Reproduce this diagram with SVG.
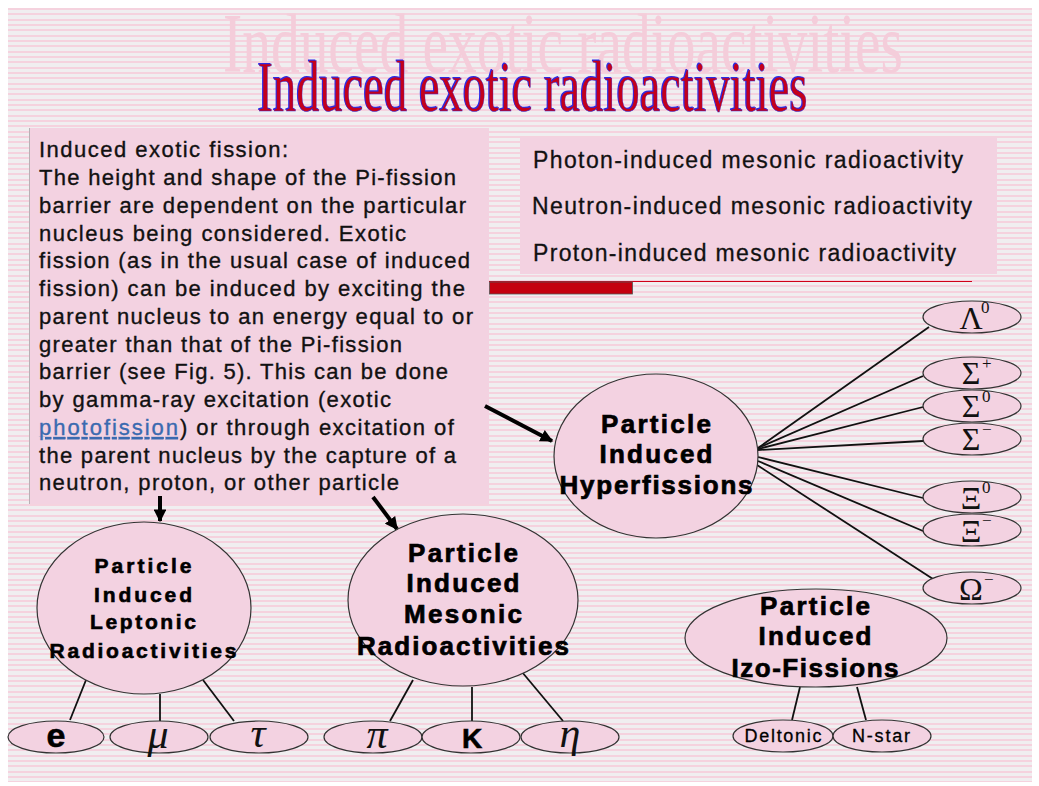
<svg xmlns="http://www.w3.org/2000/svg" width="1039" height="786" viewBox="0 0 1039 786">
<defs>
<pattern id="stripes" x="0" y="8" width="20" height="16" patternUnits="userSpaceOnUse">
<rect width="20" height="16" fill="#f0eef0"/>
<rect y="0" width="20" height="2" fill="#f5d2de"/>
<rect y="5" width="20" height="2" fill="#f5d2de"/>
<rect y="11" width="20" height="2" fill="#f5d2de"/>
</pattern>
<marker id="ah" viewBox="0 0 10 10" refX="9" refY="5" markerWidth="3.2" markerHeight="3.2" orient="auto" markerUnits="strokeWidth">
<path d="M0,0 L10,5 L0,10 z" fill="#000"/>
</marker>
</defs>
<style>
.box{fill:#f3d2e1}
.node{fill:#f3d2e1;stroke:#333;stroke-width:1.2}
.con{stroke:#111;stroke-width:1.8;fill:none}
.arr{stroke:#000;stroke-width:4;fill:none;marker-end:url(#ah)}
.body{font-family:"Liberation Sans",Arial,sans-serif;font-size:22px;fill:#111;stroke:#111;stroke-width:0.35}
.list{font-family:"Liberation Sans",Arial,sans-serif;font-size:23px;fill:#111;stroke:#111;stroke-width:0.3}
.big{font-family:"Liberation Sans",Arial,sans-serif;font-weight:bold;font-size:26px;fill:#000;stroke:#000;stroke-width:0.7;text-anchor:middle}
.med{font-family:"Liberation Sans",Arial,sans-serif;font-weight:bold;font-size:21px;fill:#000;stroke:#000;stroke-width:0.6;text-anchor:middle}
.greek{font-family:"Liberation Serif","Times New Roman",serif;fill:#111;text-anchor:middle}
.gs{font-size:32px}
.gi{font-style:italic;font-size:42px}
.sup{font-family:"Liberation Serif","Times New Roman",serif;font-size:17px;fill:#111}
.small{font-family:"Liberation Sans",Arial,sans-serif;font-size:18px;fill:#000;stroke:#000;stroke-width:0.3;text-anchor:middle}
.lat{font-family:"Liberation Sans",Arial,sans-serif;font-weight:bold;fill:#000;stroke:#000;stroke-width:0.6;text-anchor:middle}
</style>
<rect width="1039" height="786" fill="#ffffff"/>
<rect x="8" y="8" width="1024" height="774" fill="url(#stripes)"/>
<!-- titles -->
<text x="223" y="72" font-family="'Liberation Serif','Times New Roman',serif" font-size="84" fill="#f4cdda" textLength="680" lengthAdjust="spacingAndGlyphs">Induced exotic radioactivities</text>
<text x="256.5" y="110" font-family="'Liberation Serif','Times New Roman',serif" font-size="72" fill="#2a2ae8" textLength="550" lengthAdjust="spacingAndGlyphs">Induced exotic radioactivities</text>
<text x="257.5" y="110.5" font-family="'Liberation Serif','Times New Roman',serif" font-size="72" fill="#c3001c" stroke="#3030e0" stroke-width="0.5" textLength="550" lengthAdjust="spacingAndGlyphs">Induced exotic radioactivities</text>
<!-- left text box -->
<g id="fission-text">
<rect class="box" x="29" y="128" width="460" height="376"/>
<line x1="29.5" y1="128" x2="29.5" y2="504" stroke="#b8b0b4" stroke-width="1"/>
<text class="body" x="39" y="157" textLength="249">Induced exotic fission:</text>
<text class="body" x="39" y="185" textLength="417">The height and shape of the Pi-fission</text>
<text class="body" x="39" y="213" textLength="427">barrier are dependent on the particular</text>
<text class="body" x="39" y="241" textLength="367">nucleus being considered. Exotic</text>
<text class="body" x="39" y="268" textLength="431">fission (as in the usual case of induced</text>
<text class="body" x="39" y="296" textLength="426">fission) can be induced by exciting the</text>
<text class="body" x="39" y="324" textLength="434">parent nucleus to an energy equal to or</text>
<text class="body" x="39" y="352" textLength="363">greater than that of the Pi-fission</text>
<text class="body" x="39" y="379" textLength="409">barrier (see  Fig. 5). This can be done</text>
<text class="body" x="39" y="407" textLength="352">by gamma-ray excitation (exotic</text>
<text class="body" x="39" y="435"><tspan fill="#3a6ab0" stroke="#3a6ab0" text-decoration="underline" textLength="139">photofission</tspan><tspan textLength="274">) or through excitation of</tspan></text>
<text class="body" x="39" y="463" textLength="417">the parent nucleus by the capture of a</text>
<text class="body" x="39" y="490" textLength="360">neutron, proton, or other particle</text>
</g>
<!-- right list box -->
<g id="mesonic-list">
<rect class="box" x="520" y="137" width="477" height="137"/>
<text class="list" x="533" y="168" textLength="430">Photon-induced mesonic radioactivity</text>
<text class="list" x="532" y="214" textLength="440">Neutron-induced mesonic radioactivity</text>
<text class="list" x="533" y="261" textLength="423">Proton-induced mesonic radioactivity</text>
</g>
<g id="red-bar">
<line x1="489" y1="281.5" x2="972" y2="281.5" stroke="#d00018" stroke-width="1"/>
<rect x="489.5" y="282" width="143" height="12" fill="#c4000e" stroke="#555" stroke-width="0.8"/>
</g>
<!-- connectors -->
<g id="connectors">
<line class="arr" x1="160" y1="496" x2="160" y2="521"/>
<line class="arr" x1="373" y1="497" x2="397" y2="529"/>
<line class="arr" x1="485" y1="406" x2="552" y2="441"/>
<line class="con" x1="758" y1="448" x2="929" y2="327"/>
<line class="con" x1="758" y1="448" x2="923" y2="376"/>
<line class="con" x1="758" y1="449" x2="923" y2="407"/>
<line class="con" x1="758" y1="450" x2="923" y2="441"/>
<line class="con" x1="758" y1="457" x2="923" y2="498"/>
<line class="con" x1="758" y1="461" x2="923" y2="531"/>
<line class="con" x1="757" y1="465" x2="933" y2="579"/>
<line class="con" x1="86" y1="680" x2="70" y2="720"/>
<line class="con" x1="160" y1="694" x2="160" y2="721"/>
<line class="con" x1="203" y1="680" x2="234" y2="721"/>
<line class="con" x1="413" y1="680" x2="390" y2="721"/>
<line class="con" x1="472" y1="687" x2="472" y2="721"/>
<line class="con" x1="522" y1="672" x2="563" y2="721"/>
<line class="con" x1="800" y1="687" x2="792" y2="720"/>
<line class="con" x1="857" y1="687" x2="866" y2="720"/>
</g>
<!-- hyperfissions -->
<g id="hyperfissions">
<ellipse class="node" cx="656" cy="456" rx="102" ry="82"/>
<text class="big" x="656" y="433" textLength="110">Particle</text>
<text class="big" x="656" y="463" textLength="113">Induced</text>
<text class="big" x="656" y="494" textLength="193">Hyperfissions</text>
</g>
<g id="lambda0"><ellipse class="node" cx="972" cy="317" rx="49" ry="16"/><text class="greek gs" x="971" y="329">Λ</text><text class="sup" x="981" y="313">0</text></g>
<g id="sigmaplus"><ellipse class="node" cx="972" cy="373" rx="49" ry="16"/><text class="greek gs" x="971" y="384">Σ</text><text class="sup" x="982" y="369">+</text></g>
<g id="sigma0"><ellipse class="node" cx="972" cy="406" rx="49" ry="16"/><text class="greek gs" x="971" y="417">Σ</text><text class="sup" x="982" y="402">0</text></g>
<g id="sigmaminus"><ellipse class="node" cx="972" cy="439" rx="49" ry="16"/><text class="greek gs" x="971" y="450">Σ</text><text class="sup" x="982" y="435">−</text></g>
<g id="xi0"><ellipse class="node" cx="972" cy="497" rx="49" ry="16"/><text class="greek gs" x="971" y="509">Ξ</text><text class="sup" x="982" y="493">0</text></g>
<g id="ximinus"><ellipse class="node" cx="972" cy="530" rx="49" ry="16"/><text class="greek gs" x="971" y="542">Ξ</text><text class="sup" x="982" y="526">−</text></g>
<g id="omegaminus"><ellipse class="node" cx="972" cy="588" rx="49" ry="16"/><text class="greek gs" x="971" y="600">Ω</text><text class="sup" x="984" y="585">−</text></g>
<!-- leptonic -->
<g id="leptonic">
<ellipse class="node" cx="144" cy="608" rx="107" ry="86"/>
<text class="med" x="143" y="573" textLength="97">Particle</text>
<text class="med" x="143" y="602" textLength="98">Induced</text>
<text class="med" x="143" y="629" textLength="106">Leptonic</text>
<text class="med" x="143" y="658" textLength="187">Radioactivities</text>
</g>
<g id="electron"><ellipse class="node" cx="56" cy="737" rx="48" ry="16"/><text class="lat" x="56" y="747" style="font-size:34px">e</text></g>
<g id="muon"><ellipse class="node" cx="159" cy="737" rx="49" ry="16"/><text class="greek gi" x="158" y="748">μ</text></g>
<g id="tau"><ellipse class="node" cx="259" cy="737" rx="49" ry="16"/><text class="greek gi" x="258" y="747">τ</text></g>
<!-- mesonic -->
<g id="mesonic">
<ellipse class="node" cx="463" cy="600" rx="115" ry="86"/>
<text class="big" x="463" y="562" textLength="110">Particle</text>
<text class="big" x="463" y="592" textLength="113">Induced</text>
<text class="big" x="463" y="623" textLength="118">Mesonic</text>
<text class="big" x="463" y="655" textLength="212">Radioactivities</text>
</g>
<g id="pion"><ellipse class="node" cx="373" cy="737" rx="49" ry="16"/><text class="greek gi" x="377" y="748">π</text></g>
<g id="kaon"><ellipse class="node" cx="471" cy="737" rx="49" ry="16"/><text class="lat" x="472" y="748" style="font-size:28px">K</text></g>
<g id="eta"><ellipse class="node" cx="570" cy="737" rx="49" ry="16"/><text class="greek gi" x="570" y="747">η</text></g>
<!-- izo-fissions -->
<g id="izo-fissions">
<ellipse class="node" cx="816" cy="638" rx="131" ry="49"/>
<text class="big" x="815" y="615" textLength="110">Particle</text>
<text class="big" x="815" y="645" textLength="113">Induced</text>
<text class="big" x="815" y="677" textLength="167">Izo-Fissions</text>
</g>
<g id="deltonic"><ellipse class="node" cx="783" cy="736" rx="50" ry="16"/><text class="small" x="783" y="742" textLength="77">Deltonic</text></g>
<g id="nstar"><ellipse class="node" cx="882" cy="736" rx="49" ry="16"/><text class="small" x="881" y="742" textLength="58">N-star</text></g>
</svg>
